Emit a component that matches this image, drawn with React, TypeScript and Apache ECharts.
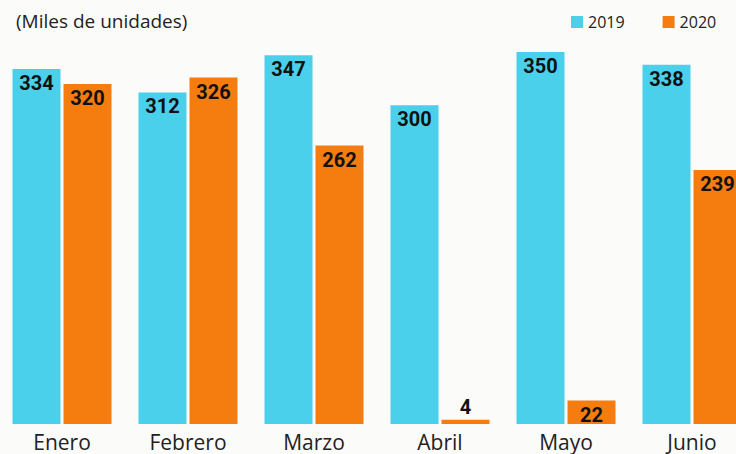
import React, { useEffect, useRef } from "react";
import * as echarts from "echarts";

const months = ["Enero", "Febrero", "Marzo", "Abril", "Mayo", "Junio"];
const values2019 = [334, 312, 347, 300, 350, 338];
const values2020 = [320, 326, 262, 4, 22, 239];
const seriesNames = ["2019", "2020"];
const title = "(Miles de unidades)";

const CYAN = "#4bd0ec";
const ORANGE = "#f57d10";

export default function App() {
  const ref = useRef<HTMLDivElement>(null);
  useEffect(() => {
    document.body.style.margin = "0";
    const chart = echarts.init(ref.current!, null, { renderer: "svg" });
    const labelBase = {
      show: true,
      position: "insideTop",
      distance: 4,
      color: "#111",
      fontFamily: "Roboto",
      fontWeight: "bold",
      fontSize: 20,
    };
    const mk = (vals: number[]) =>
      vals.map((v) => (v < 10 ? { value: v, label: { position: "top", distance: 3 } } : v));
    chart.setOption({
      animation: false,
      backgroundColor: "#fbfbf9",
      title: {
        text: title,
        left: 11,
        top: 6,
        textStyle: { fontFamily: "Open Sans", fontSize: 19, fontWeight: 500, color: "#222" },
      },
      legend: {
        left: 566,
        top: 9,
        itemWidth: 12,
        itemHeight: 12,
        itemGap: 38,
        icon: "rect",
        textStyle: { fontFamily: "Open Sans", fontSize: 16, color: "#222" },
        data: seriesNames,
      },
      grid: { left: -1, width: 756, top: 52, bottom: 30, outerBoundsMode: "none", containLabel: false },
      xAxis: {
        type: "category",
        data: months,
        axisLine: { show: false },
        axisTick: { show: false },
        axisLabel: { color: "#222", fontSize: 21, fontFamily: "Open Sans", margin: 7 },
      },
      yAxis: {
        type: "value",
        min: 0,
        max: 350,
        show: false,
        splitLine: { show: false },
      },
      series: [
        {
          name: seriesNames[0],
          type: "bar",
          data: mk(values2019),
          barWidth: 48,
          barGap: "6.25%",
          itemStyle: { color: CYAN },
          label: labelBase,
        },
        {
          name: seriesNames[1],
          type: "bar",
          data: mk(values2020),
          barWidth: 48,
          barGap: "6.25%",
          itemStyle: { color: ORANGE },
          label: labelBase,
        },
      ],
    });
    return () => chart.dispose();
  }, []);
  return <div ref={ref} style={{ width: 736, height: 454 }} />;
}
